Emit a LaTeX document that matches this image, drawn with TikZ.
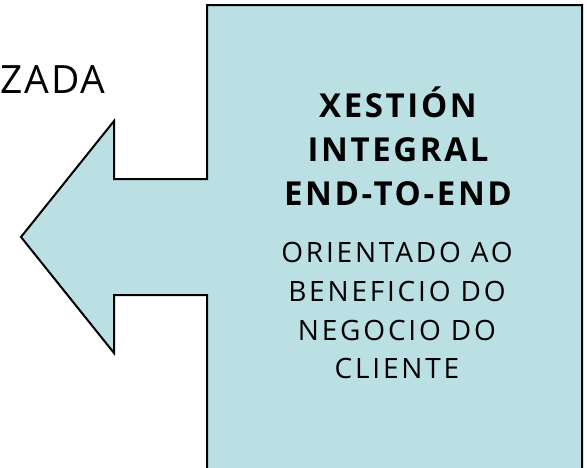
\documentclass[tikz,border=0pt]{standalone}
\usepackage{fontspec}
\setsansfont{Open Sans}[LetterSpace=10]
\renewcommand{\familydefault}{\sfdefault}
\usetikzlibrary{positioning}
\definecolor{calloutblue}{RGB}{187,224,227}

\begin{document}
\begin{tikzpicture}[x=1pt,y=-1pt]
\useasboundingbox (0,0) rectangle (587,467);
\clip (0,0) rectangle (587,467);
% callout body with the arrow pointing left
\draw[line width=2pt,fill=calloutblue,line join=miter]
  (207,5) -- (582,5) -- (582,490) -- (207,490) -- (207,295) -- (114,295)
  -- (114,353) -- (21,237) -- (114,121) -- (114,179) -- (207,179) -- cycle;
\node[anchor=base west,inner sep=0pt,
  font=\fontsize{39}{40}\selectfont\addfontfeatures{LetterSpace=5}] (zada) at (0,93) {ZADA};
\node[anchor=north,inner sep=0pt,align=center,
  font=\fontsize{33}{44}\selectfont\bfseries\addfontfeatures{LetterSpace=8}] (xestion) at (398,86.5)
  {XESTIÓN\\ INTEGRAL\\ END-TO-END};
\node[anchor=north,inner sep=0pt,align=center,
  font=\fontsize{28}{38.8}\selectfont] (orientado) at (397,242)
  {ORIENTADO AO\\ BENEFICIO DO\\ NEGOCIO DO\\ CLIENTE};
\end{tikzpicture}
\end{document}
